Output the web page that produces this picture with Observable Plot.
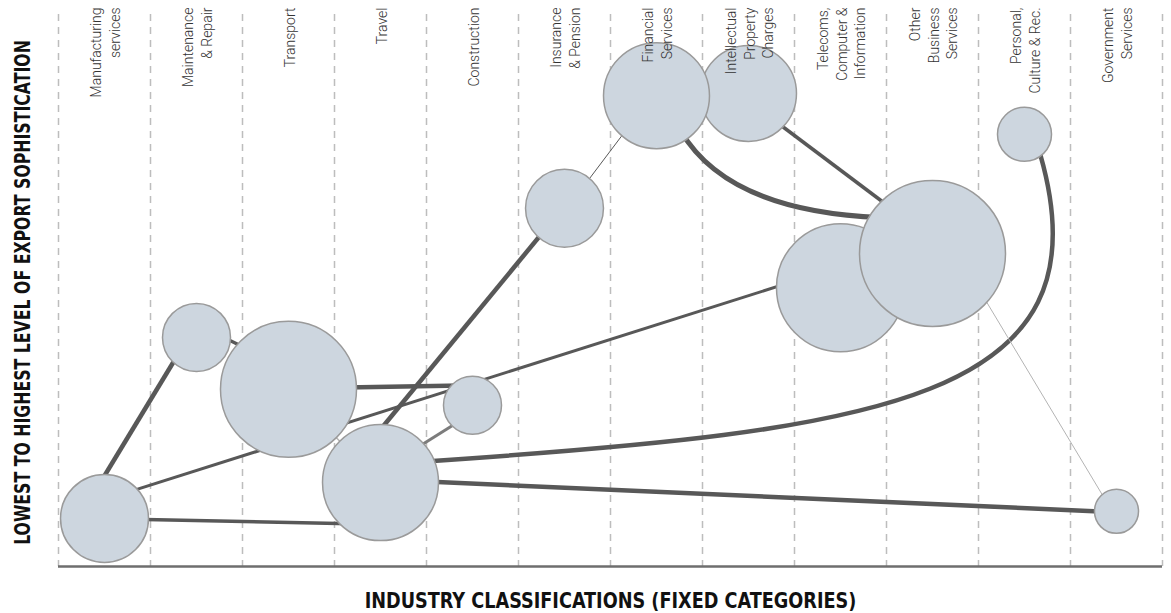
<!DOCTYPE html>
<html>
<head>
<meta charset="utf-8">
<script src="https://cdn.jsdelivr.net/npm/d3@7"></script>
<script src="https://cdn.jsdelivr.net/npm/@observablehq/plot@0.6"></script>
<style>
  html, body { margin: 0; padding: 0; background: #fff; }
  #chart svg { display: block; }
</style>
</head>
<body>
<div id="chart"></div>
<script>
// ---- Data ----
const categories = [
  "Manufacturing\nservices",
  "Maintenance\n& Repair",
  "Transport",
  "Travel",
  "Construction",
  "Insurance\n& Pension",
  "Financial\nServices",
  "Intellectual\nProperty\nCharges",
  "Telecoms,\nComputer &\nInformation",
  "Other\nBusiness\nServices",
  "Personal,\nCulture & Rec.",
  "Government\nServices"
];
// sophistication level (0 = lowest, 100 = highest)
const level = [8.7, 41.5, 32.1, 15.2, 29.2, 64.9, 85.3, 85.7, 50.5, 56.7, 78.3, 10.0];
// relative export size (bubble area)
const size = [36.3, 21.7, 86.8, 63.1, 15.8, 28.5, 52.7, 43.2, 76.9, 100, 13.7, 9.1];
// bubble stacking order (which bubble is drawn over which)
const drawOrder = [0, 1, 2, 3, 4, 5, 7, 6, 8, 9, 10, 11];

// links: endpoints (and bezier control points) in category-index / level units
const linkFrom = ["Manufacturing services", "Manufacturing services", "Manufacturing services", "Transport", "Travel", "Travel", "Travel", "Travel", "Maintenance & Repair", "Transport", "Insurance & Pension", "Financial Services", "Intellectual Property Charges", "Other Business Services"];
const linkTo   = ["Maintenance & Repair", "Travel", "Telecoms, Computer & Information", "Construction", "Insurance & Pension", "Construction", "Personal, Culture & Rec.", "Government Services", "Transport", "Travel", "Financial Services", "Other Business Services", "Other Business Services", "Government Services"];
const linkX = [
  [-0.163, 0.891],
  [0.174, 2.674],
  [0.120, 7.565],
  [2.457, 3.891],
  [2.946, 4.870],
  [3.380, 3.891],
  [3.489, 8.435, 10.935, 10.174],
  [3.435, 10.935],
  [1.207, 1.587],
  [2, 3],
  [5.174, 5.707],
  [6.261, 6.609, 7.348, 8.435],
  [7.239, 8.598],
  [9.304, 10.935]
];
const linkY = [
  [11.96, 40.94],
  [8.62, 7.75],
  [12.74, 52.05],
  [32.37, 32.79],
  [23.73, 62.68],
  [21.32, 26.68],
  [19.02, 24.64, 30.07, 74.46],
  [15.43, 9.89],
  [42.21, 39.13],
  [32.1, 15.2],
  [68.12, 79.89],
  [78.99, 69.02, 63.95, 63.22],
  [81.34, 64.31],
  [55.80, 10.51]
];
const linkWidth = [4.5, 3.5, 3, 4.5, 4.5, 3, 4.5, 4.5, 3.5, 1.5, 1, 5, 3.5, 1];
const linkTone  = ["dark", "dark", "dark", "dark", "dark", "mid", "dark", "dark", "dark", "light", "dark", "dark", "dark", "light"];

const yTitle = "LOWEST TO HIGHEST LEVEL OF EXPORT SOPHISTICATION";
const xTitle = "INDUSTRY CLASSIFICATIONS (FIXED CATEGORIES)";

// ---- Build tables ----
const tones = {dark: "#585858", mid: "#7c7c7c", light: "#b4b4b4"};
const bubbles = drawOrder.map(i => ({i, label: categories[i], level: level[i], size: size[i]}));
const labels = categories.map((label, i) => ({i, label}));
const boundaries = categories.map((_, i) => i - 0.5).concat([categories.length - 0.5]);

// custom curve: 4 points -> cubic bezier, otherwise straight segments
function bezierCurve(context) {
  let pts = [];
  return {
    areaStart() {}, areaEnd() {},
    lineStart() { pts = []; },
    point(x, y) { pts.push([+x, +y]); },
    lineEnd() {
      if (pts.length === 4) {
        context.moveTo(pts[0][0], pts[0][1]);
        context.bezierCurveTo(pts[1][0], pts[1][1], pts[2][0], pts[2][1], pts[3][0], pts[3][1]);
      } else {
        pts.forEach((p, k) => k ? context.lineTo(p[0], p[1]) : context.moveTo(p[0], p[1]));
      }
    }
  };
}

const linkMarks = linkX.map((xs, k) =>
  Plot.line(xs.map((x, j) => ({x, y: linkY[k][j], link: linkFrom[k] + " → " + linkTo[k]})), {
    x: "x", y: "y",
    curve: bezierCurve,
    stroke: tones[linkTone[k]],
    strokeWidth: linkWidth[k],
    strokeLinecap: "butt"
  })
);

const titleFont = "'DejaVu Sans Condensed', 'DejaVu Sans', sans-serif";

const chart = Plot.plot({
  width: 1171,
  height: 613,
  marginLeft: 58,
  marginRight: 9,
  marginTop: 14,
  marginBottom: 47,
  x: {domain: [-0.5, categories.length - 0.5], axis: null},
  y: {domain: [0, 100], axis: null},
  r: {type: "sqrt", domain: [0, 100], range: [0, 73]},
  style: {background: "#fff"},
  marks: [
    Plot.ruleX(boundaries, {stroke: "#bdbdbd", strokeWidth: 1.5, strokeDasharray: "7,6"}),
    Plot.ruleY([0], {stroke: "#6e6e6e", strokeWidth: 2.5}),
    ...linkMarks,
    Plot.dot(bubbles, {
      x: "i", y: "level", r: "size", sort: null,
      fill: "#cdd6df", fillOpacity: 1, stroke: "#9a9a9a", strokeWidth: 1.5
    }),
    Plot.text(labels, {
      x: "i", text: "label",
      frameAnchor: "top", dy: -7,
      rotate: -90, textAnchor: "end", lineAnchor: "middle",
      lineHeight: 1.35,
      fontSize: 14, fontWeight: 300, fontFamily: "Roboto, 'Open Sans', sans-serif",
      fill: "#333"
    }),
    Plot.text([yTitle], {
      text: d => d, frameAnchor: "left", dx: -36, dy: 2, rotate: -90,
      textAnchor: "middle", lineAnchor: "middle",
      fontSize: 22, fontWeight: "bold", fontFamily: titleFont, fill: "#111"
    }),
    Plot.text([xTitle], {
      text: d => d, frameAnchor: "bottom", dy: 34,
      textAnchor: "middle", lineAnchor: "middle",
      fontSize: 22, fontWeight: "bold", fontFamily: titleFont, fill: "#111"
    })
  ]
});
document.getElementById("chart").appendChild(chart);

// squeeze the two axis titles (along their reading direction) to the condensed widths of the reference
const titleLengths = {[yTitle]: 505, [xTitle]: 492};
chart.querySelectorAll("text").forEach(t => {
  const len = titleLengths[t.textContent];
  if (!len) return;
  t.style.fontStretch = "condensed";
  const natural = t.getComputedTextLength();
  if (!(natural > 0)) return;
  const s = len / natural;
  let tr = t.getAttribute("transform");
  if (!tr) {
    const x = +(t.getAttribute("x") || 0), y = +(t.getAttribute("y") || 0);
    t.removeAttribute("x"); t.removeAttribute("y");
    tr = `translate(${x},${y})`;
  }
  t.setAttribute("transform", `${tr} scale(${s},1)`);
});
</script>
</body>
</html>
